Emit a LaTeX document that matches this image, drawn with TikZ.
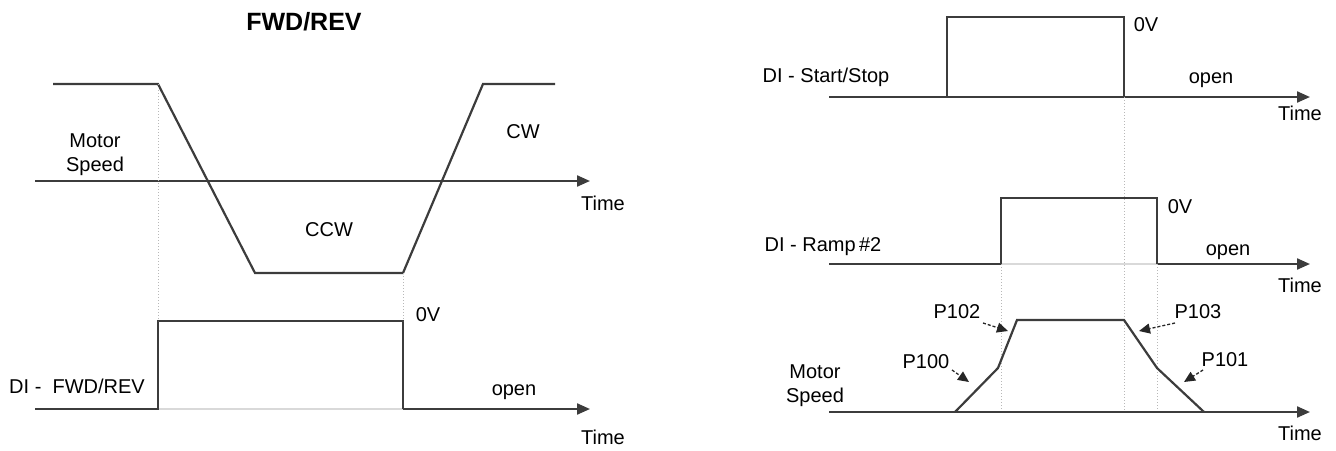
\documentclass[tikz,border=0pt]{standalone}
\usepackage{fontspec}
\setmainfont{Liberation Sans}
\usetikzlibrary{arrows.meta}
\definecolor{wave}{HTML}{3C3C3C}
\definecolor{dotc}{HTML}{B8B8B8}
\begin{document}
\begin{tikzpicture}[x=1pt,y=-1pt,
  lbl/.style={inner sep=0pt,font=\fontsize{20}{24}\selectfont,align=center},
  ttl/.style={inner sep=0pt,font=\fontsize{25}{30}\selectfont\bfseries},
  sig/.style={draw=wave,line width=2.2pt,line join=miter},
  axisline/.style={draw=wave,line width=2.2pt,-{Triangle[length=13pt,width=11pt]}},
  faint/.style={draw=black!15,line width=2pt},
  guide/.style={draw=dotc,line width=1pt,dotted},
  pointer/.style={draw=black!85,line width=1.3pt,dash pattern=on 3pt off 2pt,-{Triangle[length=11pt,width=10pt]}}
]
\useasboundingbox (0,0) rectangle (1336,450);

% ---------------- Left panel ----------------
\node[ttl] (title) at (304,22) {FWD/REV};

% speed axis
\coordinate (laxS) at (35,181);
\coordinate (laxE) at (590,181);
\draw[axisline] (laxS) -- (laxE);

% speed waveform
\coordinate (s0) at (53,84);
\coordinate (s1) at (158,84);
\coordinate (s2) at (255,273);
\coordinate (s3) at (403,273);
\coordinate (s4) at (483,84);
\coordinate (s5) at (555,84);
\draw[sig] (s0) -- (s1) -- (s2) -- (s3) -- (s4) -- (s5);

% DI FWD/REV
\coordinate (d0) at (35,409);
\coordinate (d1) at (158,409);
\coordinate (d2) at (158,321);
\coordinate (d3) at (403,321);
\coordinate (d4) at (403,409);
\coordinate (d5) at (590,409);
\draw[faint] (d1) -- (d4);
\draw[sig] (d0) -- (d1) -- (d2) -- (d3) -- (d4);
\draw[axisline] (d4) -- (d5);

% guides
\draw[guide] (s1) -- (d2);
\draw[guide] (s3) -- (d3);

\node[lbl] (lms) at (95,155) {Motor\\Speed};
\node[lbl] (lcw) at (523,132) {CW};
\node[lbl] (lccw) at (329,230) {CCW};
\node[lbl] (lt1) at (603,203) {Time};
\node[lbl] (ldi) at (77,386) {DI -\ \ FWD/REV};
\node[lbl] (l0v) at (428,315) {0V};
\node[lbl] (lopen) at (514,392) {open};
\node[lbl] (lt2) at (603,437) {Time};

% ---------------- Right panel ----------------
% Start/Stop
\coordinate (a0) at (829,97);
\coordinate (a1) at (947,97);
\coordinate (a2) at (947,17);
\coordinate (a3) at (1124,17);
\coordinate (a4) at (1124,97);
\coordinate (a5) at (1310,97);
\draw[axisline] (a0) -- (a5);
\draw[sig] (a1) -- (a2) -- (a3) -- (a4);
\node[lbl] (rss) at (826,77) {DI - Start/Stop};
\node[lbl] (r0v1) at (1146,25) {0V};
\node[lbl] (ropen1) at (1211,80) {open};
\node[lbl] (rt1) at (1300,113) {Time};

% Ramp #2
\coordinate (b0) at (829,264);
\coordinate (b1) at (1001,264);
\coordinate (b2) at (1001,198);
\coordinate (b3) at (1157,198);
\coordinate (b4) at (1157,264);
\coordinate (b5) at (1310,264);
\draw[faint] (b1) -- (b4);
\draw[sig] (b0) -- (b1) -- (b2) -- (b3) -- (b4);
\draw[axisline] (b4) -- (b5);
\node[lbl] (rr2) at (823,247) {DI - Ramp\,\#2};
\node[lbl] (r0v2) at (1180,207) {0V};
\node[lbl] (ropen2) at (1228,252) {open};
\node[lbl] (rt2) at (1300,285) {Time};

% Motor speed
\coordinate (c0) at (829,412);
\coordinate (c5) at (1310,412);
\coordinate (m0) at (955,412);
\coordinate (m1) at (998,368);
\coordinate (m2) at (1017,320);
\coordinate (m3) at (1124,320);
\coordinate (m4) at (1157,368);
\coordinate (m5) at (1204,412);
\coordinate (g1) at (1001,412);
\coordinate (g2) at (1124,412);
\coordinate (g3) at (1157,412);
\draw[guide] (b1) -- (g1);
\draw[guide] (a4) -- (g2);
\draw[guide] (b4) -- (g3);
\draw[axisline] (c0) -- (c5);
\draw[sig] (m0) -- (m1) -- (m2) -- (m3) -- (m4) -- (m5);
\node[lbl] (rms) at (815,386) {Motor\\Speed};
\node[lbl] (rt3) at (1300,433) {Time};

% parameter labels and pointers
\node[lbl] (p102) at (957,312) {P102};
\node[lbl] (p100) at (926,362) {P100};
\node[lbl] (p103) at (1198,312) {P103};
\node[lbl] (p101) at (1225,360) {P101};
\coordinate (q102s) at (983,323);
\coordinate (q102e) at (1008,331);
\coordinate (q100s) at (952,370);
\coordinate (q100e) at (969,382);
\coordinate (q103s) at (1175,323);
\coordinate (q103e) at (1139,331);
\coordinate (q101s) at (1203,370);
\coordinate (q101e) at (1184,382);
\draw[pointer] (q102s) -- (q102e);
\draw[pointer] (q100s) -- (q100e);
\draw[pointer] (q103s) -- (q103e);
\draw[pointer] (q101s) -- (q101e);
\end{tikzpicture}
\end{document}
